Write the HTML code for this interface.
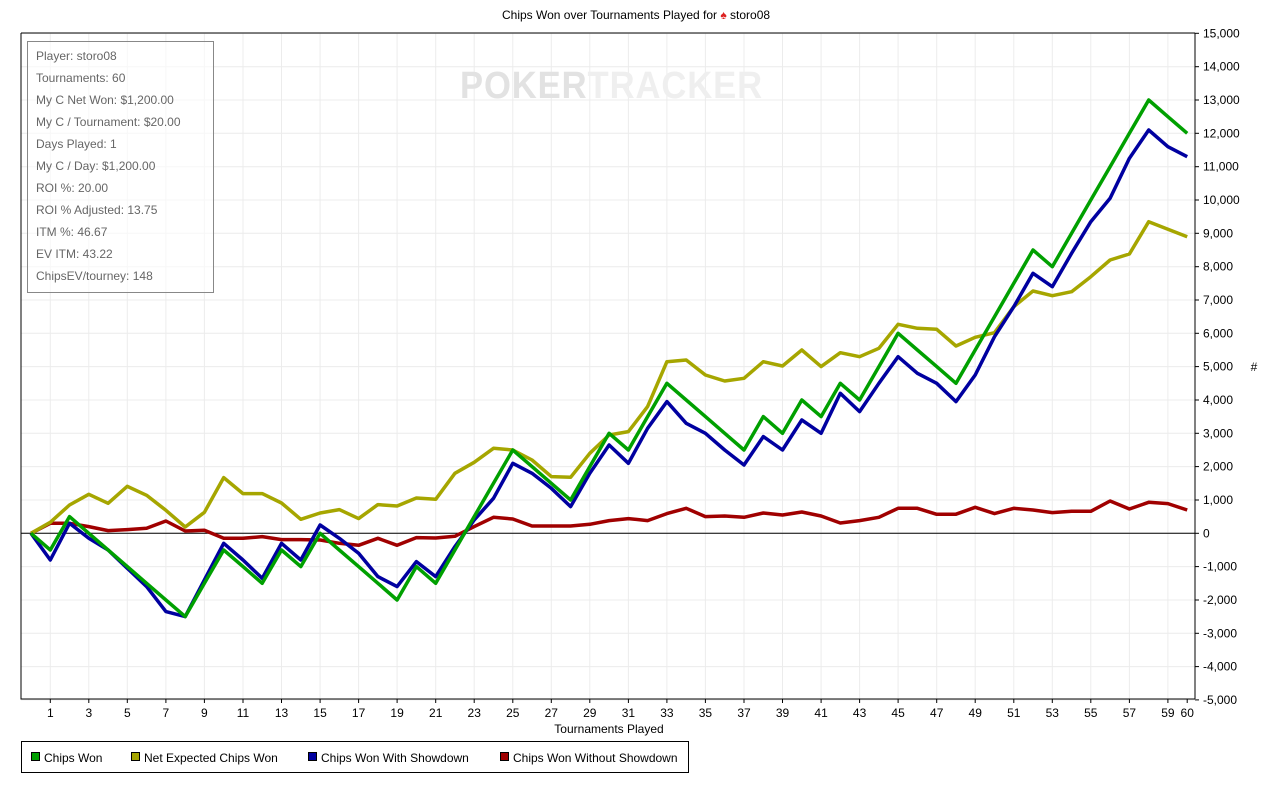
<!DOCTYPE html>
<html><head><meta charset="utf-8"><style>
body{margin:0;background:#fff;width:1281px;height:793px;overflow:hidden;font-family:"Liberation Sans",sans-serif}
</style></head><body>
<svg id="s" width="1281" height="793" xmlns="http://www.w3.org/2000/svg" font-family="Liberation Sans, sans-serif"></svg>
<script>
const G=[0,-500,500,0,-500,-1000,-1500,-2000,-2500,-1500,-500,-1000,-1500,-500,-1000,0,-500,-1000,-1500,-2000,-1000,-1500,-500,500,1500,2500,2000,1500,1000,2000,3000,2500,3500,4500,4000,3500,3000,2500,3500,3000,4000,3500,4500,4000,5000,6000,5500,5000,4500,5500,6500,7500,8500,8000,9000,10000,11000,12000,13000,12500,12000];
const B=[0,-800,300,-150,-500,-1050,-1600,-2350,-2500,-1400,-300,-800,-1350,-300,-800,250,-150,-600,-1300,-1600,-850,-1300,-400,400,1050,2100,1800,1350,800,1800,2650,2100,3150,3950,3300,3000,2500,2050,2900,2500,3400,3000,4200,3650,4500,5300,4800,4500,3950,4750,5900,6800,7800,7400,8400,9350,10050,11250,12100,11600,11300];
const Y=[0,330,850,1170,900,1410,1140,690,190,630,1670,1190,1190,910,420,610,710,440,860,820,1060,1020,1800,2130,2550,2500,2200,1700,1680,2400,2950,3050,3800,5150,5200,4750,4570,4650,5150,5020,5500,5000,5420,5300,5550,6270,6150,6120,5620,5880,6020,6800,7270,7130,7250,7700,8200,8380,9350,9120,8900];
const R=[0,300,300,200,80,110,150,370,70,90,-150,-150,-100,-190,-190,-200,-300,-360,-150,-360,-130,-140,-90,200,480,430,220,220,220,270,380,440,380,590,750,500,520,480,610,550,640,520,310,380,480,750,750,570,574,780,590,750,700,620,660,660,970,730,930,890,700];
const X=n=>31+19.27*n, Yv=v=>533.3-v*0.03333;
let h='';
for(let v=-5000;v<=15000;v+=1000){const y=Yv(v).toFixed(1);h+=`<line x1="21" x2="1195" y1="${y}" y2="${y}" stroke="#ececec"/>`;
h+=`<line x1="1195" x2="1199" y1="${y}" y2="${y}" stroke="#000"/><text x="1203" y="${+y+4}" font-size="12">${v.toLocaleString('en-US')}</text>`;}
for(let n=1;n<=60;n++){const x=X(n).toFixed(1);if(n%2==1)h+=`<line x1="${x}" x2="${x}" y1="33" y2="699" stroke="#ececec"/>`;
if(n%2==1||n==60)h+=`<line x1="${x}" x2="${x}" y1="699" y2="703" stroke="#000"/><text x="${x}" y="717" font-size="12" text-anchor="middle">${n}</text>`;}
h+=`<text x="460" y="98" font-size="38" font-weight="bold" letter-spacing="1" textLength="303" lengthAdjust="spacingAndGlyphs"><tspan fill="#e2e2e2">POKER</tspan><tspan fill="#efefef">TRACKER</tspan></text>`;
h+=`<line x1="21" x2="1195" y1="533.3" y2="533.3" stroke="#000"/>`;
h+=`<path d="M21 33V699H1195M1195 33V699M21 33H1195" fill="none" stroke="#000"/>`;
const P=(a,c)=>`<polyline fill="none" stroke="${c}" stroke-width="3.5" stroke-linejoin="round" points="${a.map((v,i)=>X(i).toFixed(1)+','+Yv(v).toFixed(1)).join(' ')}"/>`;
h+=P(R,'#a00000')+P(Y,'#a6a600')+P(B,'#0000a0')+P(G,'#00a000');
h+=`<rect x="27.5" y="41.5" width="186" height="251" fill="#fff" fill-opacity="0.6" stroke="#888"/>`;
const L=["Player: storo08","Tournaments: 60","My C Net Won: $1,200.00","My C / Tournament: $20.00","Days Played: 1","My C / Day: $1,200.00","ROI %: 20.00","ROI % Adjusted: 13.75","ITM %: 46.67","EV ITM: 43.22","ChipsEV/tourney: 148"];
L.forEach((t,i)=>h+=`<text x="36" y="${60+i*22}" font-size="12" fill="#666">${t}</text>`);
h+=`<text x="502" y="19" font-size="12">Chips Won over Tournaments Played for <tspan fill="#d22">♠</tspan> storo08</text>`;
h+=`<text x="609" y="733" font-size="12" text-anchor="middle">Tournaments Played</text>`;
h+=`<text x="1254" y="371" font-size="12" text-anchor="middle">#</text>`;
h+=`<rect x="21.5" y="741.5" width="667" height="31" fill="#fff" stroke="#000"/>`;
[["Chips Won","#00a000",31],["Net Expected Chips Won","#a6a600",131],["Chips Won With Showdown","#0000a0",308],["Chips Won Without Showdown","#a00000",500]].forEach(([t,c,x])=>{
h+=`<rect x="${x+0.5}" y="752.5" width="8" height="8" fill="${c}" stroke="#000"/><text x="${x+13}" y="762" font-size="12">${t}</text>`;});
document.getElementById('s').innerHTML=h;
</script>
</body></html>
